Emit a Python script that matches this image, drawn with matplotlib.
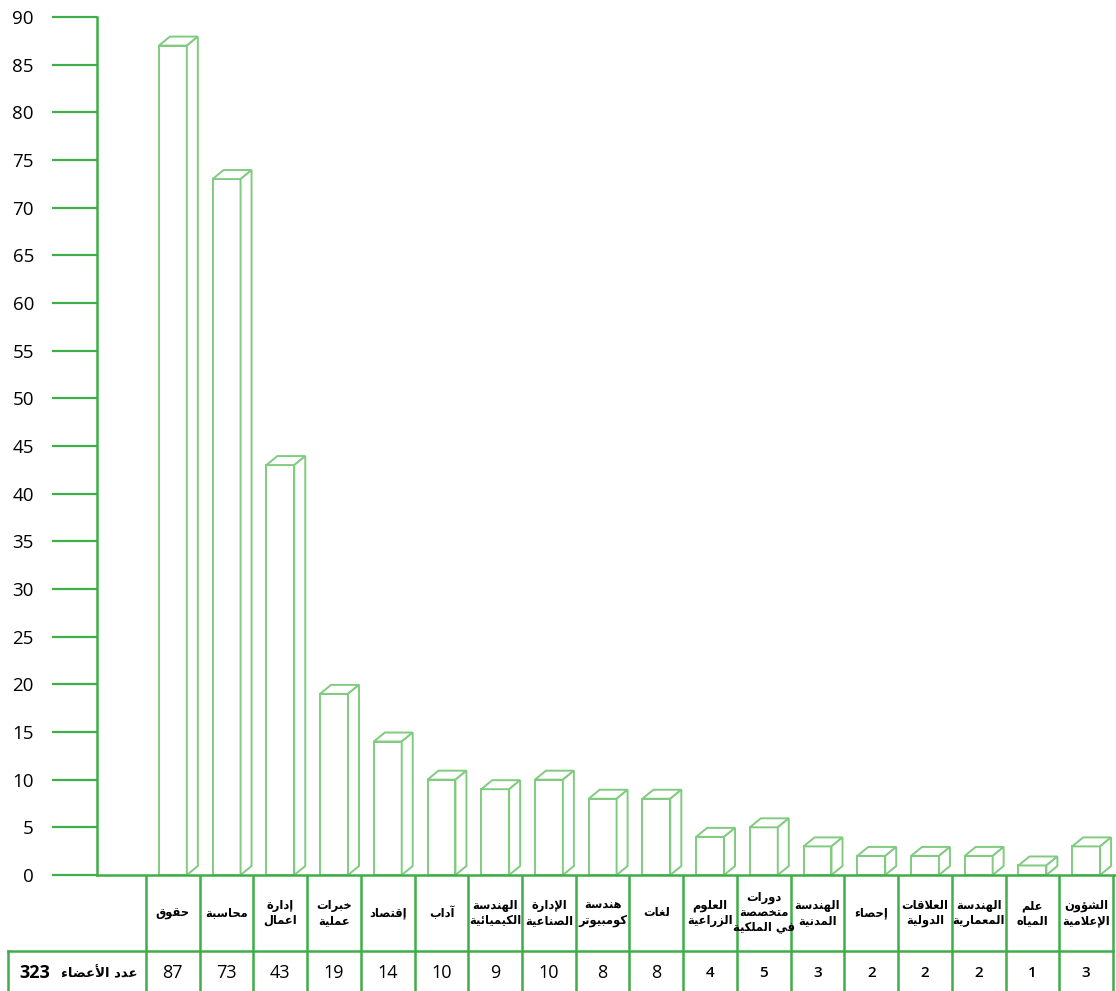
import matplotlib
matplotlib.use('Agg')
import matplotlib.pyplot as plt
from matplotlib.patches import Polygon

# data
categories = [
    'حقوق', 'محاسبة', 'إدارة\nاعمال', 'خبرات\nعملية', 'إقتصاد', 'آداب',
    'الهندسة\nالكيميائية', 'الإدارة\nالصناعية', 'هندسة\nكومبيوتر', 'لغات',
    'العلوم\nالزراعية', 'دورات\nمتخصصة\nفي الملكية', 'الهندسة\nالمدنية',
    'إحصاء', 'العلاقات\nالدولية', 'الهندسة\nالمعمارية', 'علم\nالمياه',
    'الشؤون\nالإعلامية',
]
members = [87, 73, 43, 19, 14, 10, 9, 10, 8, 8, 4, 5, 3, 2, 2, 2, 1, 3]
total_label = 'عدد الأعضاء'
total_value = 323
y_ticks = list(range(0, 95, 5))

# matplotlib does not join arabic letters, so pick the presentation forms by hand
FORMS = {
    'ء': (0xFE80, 1), 'آ': (0xFE81, 2), 'أ': (0xFE83, 2), 'ؤ': (0xFE85, 2),
    'إ': (0xFE87, 2), 'ئ': (0xFE89, 4), 'ا': (0xFE8D, 2), 'ب': (0xFE8F, 4),
    'ة': (0xFE93, 2), 'ت': (0xFE95, 4), 'ث': (0xFE99, 4), 'ج': (0xFE9D, 4),
    'ح': (0xFEA1, 4), 'خ': (0xFEA5, 4), 'د': (0xFEA9, 2), 'ذ': (0xFEAB, 2),
    'ر': (0xFEAD, 2), 'ز': (0xFEAF, 2), 'س': (0xFEB1, 4), 'ش': (0xFEB5, 4),
    'ص': (0xFEB9, 4), 'ض': (0xFEBD, 4), 'ط': (0xFEC1, 4), 'ظ': (0xFEC5, 4),
    'ع': (0xFEC9, 4), 'غ': (0xFECD, 4), 'ف': (0xFED1, 4), 'ق': (0xFED5, 4),
    'ك': (0xFED9, 4), 'ل': (0xFEDD, 4), 'م': (0xFEE1, 4), 'ن': (0xFEE5, 4),
    'ه': (0xFEE9, 4), 'و': (0xFEED, 2), 'ى': (0xFEEF, 2), 'ي': (0xFEF1, 4),
}
LAM_ALEF = {'آ': 0xFEF5, 'أ': 0xFEF7, 'إ': 0xFEF9, 'ا': 0xFEFB}


def shape_line(text):
    out = []
    i = 0
    prev_joins = False
    while i < len(text):
        c = text[i]
        if c not in FORMS:
            out.append(c)
            prev_joins = False
            i += 1
            continue
        nxt = text[i + 1] if i + 1 < len(text) else ''
        if c == 'ل' and nxt in LAM_ALEF:
            out.append(chr(LAM_ALEF[nxt] + (1 if prev_joins else 0)))
            prev_joins = False
            i += 2
            continue
        base, n = FORMS[c]
        joins_next = n == 4 and nxt in FORMS
        if n == 1:
            form = 0
        elif prev_joins and joins_next:
            form = 3
        elif prev_joins:
            form = 1
        elif joins_next:
            form = 2
        else:
            form = 0
        out.append(chr(base + form))
        prev_joins = joins_next
        i += 1
    return ''.join(out)[::-1]  # right to left


def arabic(text):
    return '\n'.join(shape_line(line) for line in text.split('\n'))


# layout (pixels of the 1116x991 picture)
W, H = 1116, 991
axis_x, top_y, base_y = 97, 17, 875
col_left, col_right = 146, 1113
col_w = (col_right - col_left) / len(members)


def xdata(px):
    return (px - col_left) / col_w - 0.5


green = '#3fae49'
light = '#80cb80'

fig = plt.figure(figsize=(W / 100, H / 100), dpi=100)
ax = fig.add_axes([axis_x / W, (H - base_y) / H, (W - axis_x) / W, (base_y - top_y) / H])
ax.set_xlim(xdata(axis_x), xdata(W))
ax.set_ylim(0, 90)

for s in ['top', 'right']:
    ax.spines[s].set_visible(False)
for s in ['left', 'bottom']:
    ax.spines[s].set_color(green)
    ax.spines[s].set_linewidth(1.8)
ax.set_xticks([])
ax.set_yticks(y_ticks)
ax.tick_params(axis='y', length=32.4, width=1.6, color=green, pad=13,
               labelsize=13.5)
for lab in ax.get_yticklabels():
    lab.set_family(['Open Sans', 'DejaVu Sans'])

# 3d-looking bars
xs = list(range(len(members)))
bw = 0.52
dx = 11 / col_w
dy = 9 * 90 / (base_y - top_y)
ax.bar(xs, members, width=bw, facecolor='white', edgecolor=light, linewidth=1.4,
       zorder=2)
for x, v in zip(xs, members):
    x0, x1 = x - bw / 2, x + bw / 2
    top = Polygon([(x0, v), (x0 + dx, v + dy), (x1 + dx, v + dy), (x1, v)],
                  closed=True, facecolor='white', edgecolor=light, lw=1.4, zorder=2)
    side = Polygon([(x1, 0), (x1 + dx, dy), (x1 + dx, v + dy), (x1, v)],
                   closed=True, facecolor='white', edgecolor=light, lw=1.4, zorder=2)
    ax.add_patch(top)
    ax.add_patch(side)

# table under the chart
tax = fig.add_axes([0, 0, 1, (H - base_y) / H])
tax.set_xlim(xdata(0), xdata(W))
tax.set_ylim(H - base_y, 0)
tax.axis('off')
row_y = 76
left_cell = xdata(8)

for i in range(len(members) + 1):
    tax.plot([i - 0.5, i - 0.5], [0, H - base_y], color=green, lw=1.8,
             solid_capstyle='butt')
tax.plot([left_cell, len(members) - 0.5], [row_y, row_y], color=green, lw=1.8)
tax.plot([left_cell, left_cell], [row_y, H - base_y], color=green, lw=1.8)

for x, name, v in zip(xs, categories, members):
    tax.text(x, row_y / 2, arabic(name), ha='center', va='center', fontsize=8.3,
             fontweight='bold', family='DejaVu Sans', linespacing=1.2)
    tax.text(x, (row_y + H - base_y) / 2 + 2, str(v), ha='center', va='center',
             fontsize=13 if v >= 8 else 11, family=['Open Sans', 'DejaVu Sans'],
             fontweight='normal' if v >= 8 else 'semibold')

tax.text(xdata(138), (row_y + H - base_y) / 2 + 2, arabic(total_label), ha='right',
         va='center', fontsize=9.5, fontweight='bold', family='DejaVu Sans')
tax.text(xdata(50), (row_y + H - base_y) / 2 + 2, str(total_value), ha='right',
         va='center', fontsize=13, fontweight='bold',
         family=['Open Sans', 'DejaVu Sans'])

fig.savefig('out.png', dpi=100)
